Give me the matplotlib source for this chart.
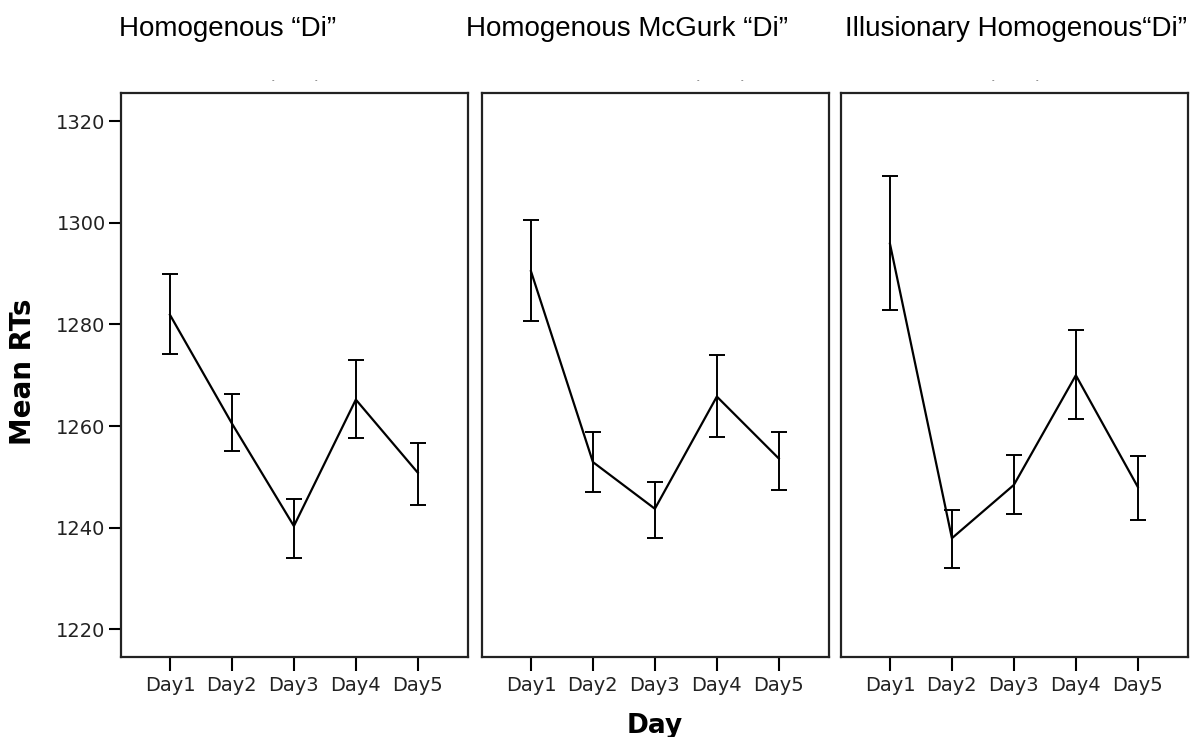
import matplotlib
matplotlib.use("Agg")
import matplotlib.pyplot as plt
import numpy as np

days = ["Day1", "Day2", "Day3", "Day4", "Day5"]
titles = ["Homogenous \u201cDi\u201d", "Homogenous McGurk \u201cDi\u201d", "Illusionary Homogenous\u201cDi\u201d"]

# mean RTs and error bar ends for each panel
means = [
    [1281.9, 1260.5, 1240.3, 1265.2, 1250.8],
    [1290.5, 1252.9, 1243.7, 1265.8, 1253.6],
    [1295.9, 1237.9, 1248.4, 1270.0, 1248.0],
]
upper = [
    [1289.9, 1266.3, 1245.7, 1273.0, 1256.6],
    [1300.6, 1258.8, 1249.0, 1273.9, 1258.9],
    [1309.2, 1243.4, 1254.3, 1279.0, 1254.0],
]
lower = [
    [1274.1, 1255.0, 1234.0, 1257.6, 1244.5],
    [1280.7, 1247.1, 1237.9, 1257.9, 1247.4],
    [1282.9, 1232.1, 1242.6, 1261.4, 1241.4],
]
yticks = [1220, 1240, 1260, 1280, 1300, 1320]

W, H = 1198, 737
fig = plt.figure(figsize=(W / 100, H / 100), dpi=100)

lefts = [121, 482, 841]
marks = [(0.438, 0.562), (0.622, 0.749), (0.438, 0.565)]
x = np.arange(1, 6)
for i in range(3):
    ax = fig.add_axes([lefts[i] / W, 80 / H, 347 / W, 564 / H])
    m = np.array(means[i])
    err = [m - np.array(lower[i]), np.array(upper[i]) - m]
    ax.errorbar(x, m, yerr=err, color="black", lw=1.6, elinewidth=1.4,
                capsize=5.5, capthick=1.4)
    ax.set_xlim(0.21, 5.81)
    ax.set_ylim(1214.5, 1325.6)
    ax.set_xticks(x)
    ax.set_xticklabels(days, fontsize=14, color="#222222")
    ax.tick_params(axis="x", length=10, width=1.5, pad=4)
    if i == 0:
        ax.set_yticks(yticks)
        ax.set_yticklabels([str(t) for t in yticks], fontsize=14, color="#222222")
        ax.tick_params(axis="y", length=9, width=1.5, pad=2)
    else:
        ax.set_yticks([])
    for s in ax.spines.values():
        s.set_linewidth(1.6)
        s.set_color("#222222")
    # tiny leftover marks above each panel
    for dx in marks[i]:
        ax.text(dx, 1.0225, "-", transform=ax.transAxes, fontsize=5,
                ha="center", va="center", color="#444444")

title_x = [228, 627, 1016]
for tx, t in zip(title_x, titles):
    fig.text(tx / W, 1 - 36 / H, t, fontsize=20, family="Liberation Sans",
             ha="center", va="baseline")

fig.text(23 / W, 1 - 372 / H, "Mean RTs", rotation=90, fontsize=20,
         fontweight="bold", ha="center", va="center")
fig.text(655 / W, 1 - 733 / H, "Day", fontsize=19, fontweight="bold",
         ha="center", va="baseline")

fig.savefig("out.png", dpi=100)
